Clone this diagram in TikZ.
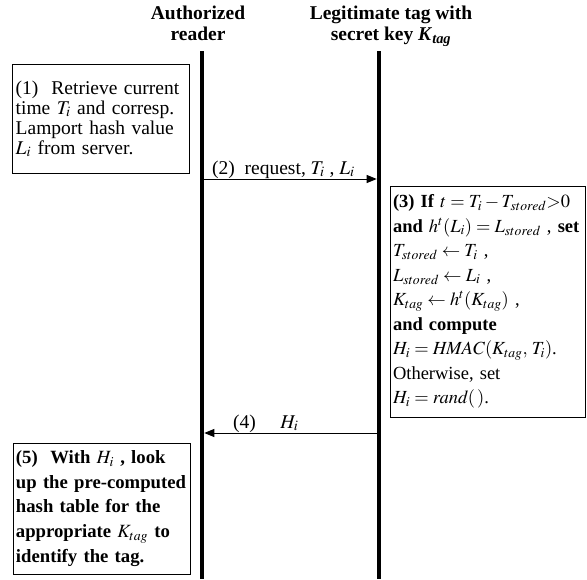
\documentclass[tikz,border=0pt]{standalone}
\usepackage{amsmath}
\usepackage{mathptmx}
\usepackage{fontspec}
\setmainfont{Liberation Serif}
\usetikzlibrary{arrows.meta}

\begin{document}
\begin{tikzpicture}[x=1pt,y=-1pt,
  stepbox/.style={
    draw, line width=0.8pt, anchor=north west, align=left,
    inner xsep=3pt, inner ysep=0pt, outer sep=0pt
  },
  head/.style={font=\fontsize{19.5}{21}\selectfont\bfseries, align=center, inner sep=0pt, anchor=north},
  msg/.style={font=\fontsize{19.5}{20}\selectfont, inner sep=0pt, anchor=base west},
  lifeline/.style={line width=4.5pt},
  message/.style={line width=0.9pt, -{Triangle[length=10pt,width=8pt]}}
]
\useasboundingbox (0,0) rectangle (587,579);

\node[head] (readerHead) at (198,5.7) {Authorized\\reader};
\node[head] (tagHead) at (391,5.7) {Legitimate tag with\\secret key \textit{K}\textsubscript{\textit{tag}}};

\coordinate (readerTop) at (202,51);
\coordinate (readerBot) at (202,579);
\coordinate (tagTop) at (379,51);
\coordinate (tagBot) at (379,579);
\draw[lifeline] (readerTop) -- (readerBot);
\draw[lifeline] (tagTop) -- (tagBot);

\node[stepbox, text width=171pt, minimum height=109pt, font=\fontsize{19.5}{20}\selectfont]
  (retrieve) at (12.7,64.3) {%
  (1)\ \ Retrieve current\\
  time $T_i$ and corresp.\\
  Lamport hash value\\
  $L_i$ from server.
};

\coordinate (reqFrom) at (204.3,179);
\coordinate (reqTo) at (376.7,179);
\draw[message] (reqFrom) -- (reqTo);
\node[msg] (reqLabel) at (212,174) {(2)\ \ request, $T_i$ , $L_i$};

\node[stepbox, text width=189pt, minimum height=231pt, font=\fontsize{18.5}{24.5}\selectfont]
  (verify) at (390,186) {%
  \textbf{(3) If} $t = T_i - T_{stored}{>}0$\\
  \textbf{and} $h^t(L_i) = L_{stored}$ , \textbf{set}\\
  $T_{stored} \leftarrow T_i$ ,\\
  $L_{stored} \leftarrow L_i$ ,\\
  $K_{tag} \leftarrow h^t(K_{tag})$ ,\\
  \textbf{and compute}\\
  $H_i = \mathit{HMAC}(K_{tag},\, T_i)$.\\
  Otherwise, set\\
  $H_i = \mathit{rand}(\,)$.
};

\coordinate (repFrom) at (376.7,433);
\coordinate (repTo) at (204.3,433);
\draw[message] (repFrom) -- (repTo);
\node[msg] (repLabel) at (233,428) {(4)\quad\ $H_i$};

\node[stepbox, text width=171pt, minimum height=131pt, font=\fontsize{18.7}{24.75}\selectfont\bfseries]
  (lookup) at (13,443) {%
  (5)\ \ With $H_i$ , look\\
  up the pre-computed\\
  hash table for the\\
  appropriate $K_{tag}$ to\\
  identify the tag.
};
\end{tikzpicture}
\end{document}
